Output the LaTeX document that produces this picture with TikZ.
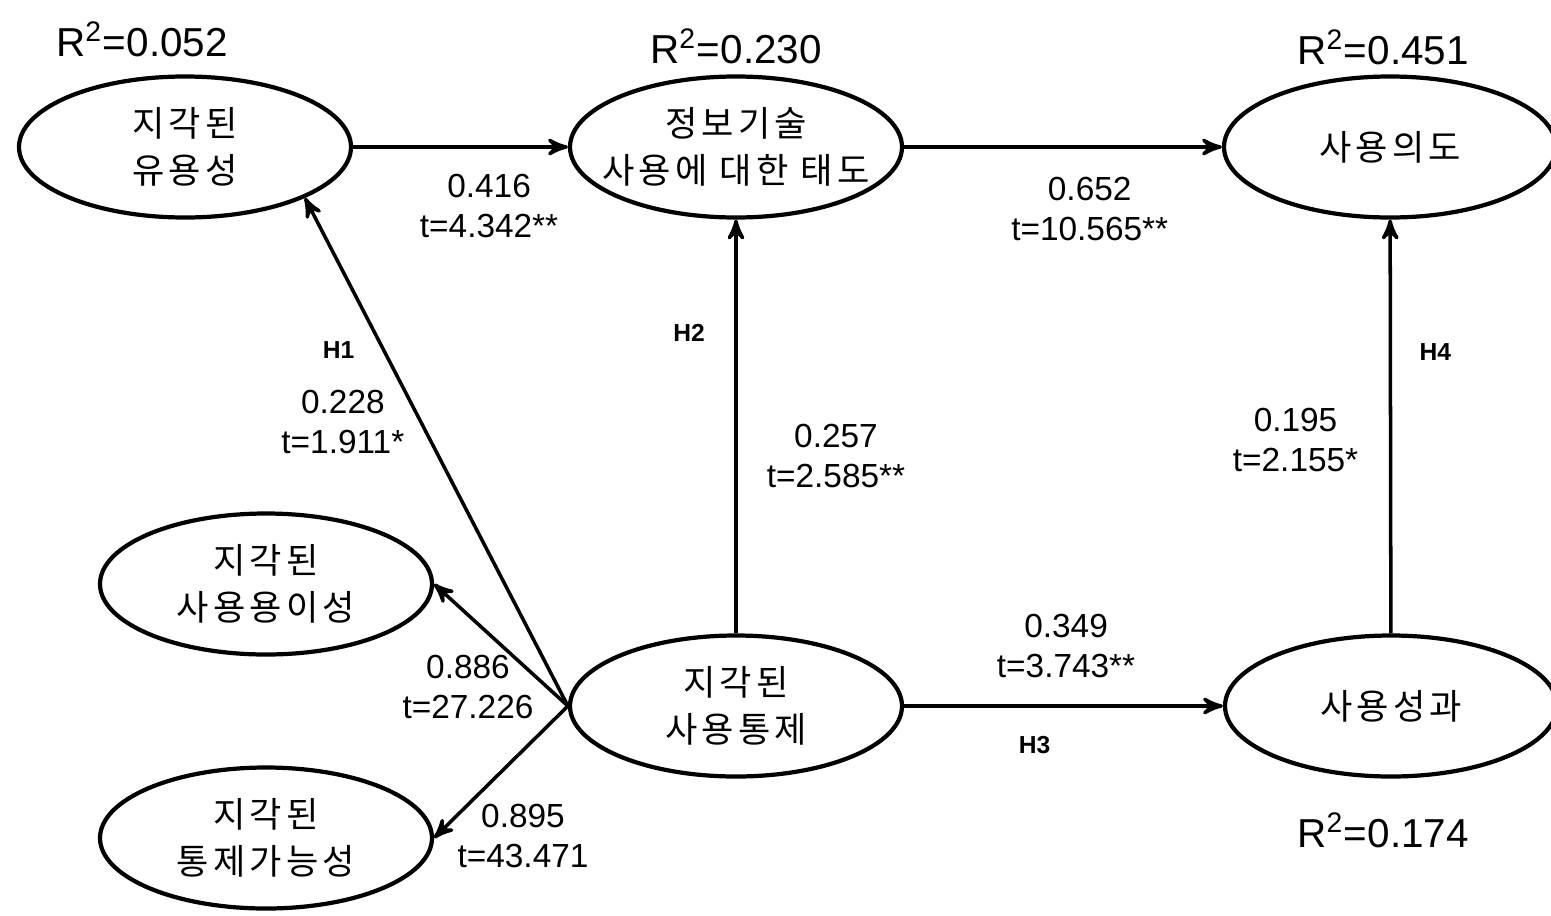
\documentclass[tikz,border=0pt]{standalone}
\usepackage{fontspec}
\setmainfont{Liberation Sans}
\newfontfamily\kr[LetterSpace=12]{Noto Sans CJK KR}
\usetikzlibrary{arrows,shapes.geometric}

\begin{document}
\begin{tikzpicture}[>=stealth',node distance=5.5cm,line width=1pt,
    main node/.style={ellipse,draw,line width=1.2pt,minimum width=3.32cm,minimum height=1.41cm,
                      inner sep=0pt,inner xsep=-0.2cm,align=center,font=\kr\fontsize{10}{13.2}\selectfont},
    rsq node/.style={inner sep=0pt,font=\fontsize{11.5}{13}\selectfont},
    est node/.style={align=center,inner sep=0pt,font=\fontsize{9.5}{11.3}\selectfont},
    hyp node/.style={inner sep=0pt,font=\fontsize{7}{8}\selectfont\bfseries}]
  \useasboundingbox (0,0) rectangle (15.51,-9.15);
  \node[main node] (1) at (1.85,-1.47) {지각된\\유용성};
  \node[main node] (2) [right of=1, node distance=5.51cm] {정보기술\\사용에 대한 태도};
  \node[main node] (3) [right of=2, node distance=6.54cm] {사용의도};
  \node[main node] (5) [below of=2, node distance=5.59cm] {지각된\\사용통제};
  \node[main node] (4) [right of=5, node distance=6.55cm] {사용성과};
  \node[main node] (6) at (2.66,-5.84) {지각된\\사용용이성};
  \node[main node] (7) [below of=6, node distance=2.54cm] {지각된\\통제가능성};
  % R-squared
  \node[rsq node] (r1) at (1.42,-0.39) {R\textsuperscript{2}=0.052};
  \node[rsq node] (r2) [above of=2, node distance=1.01cm] {R\textsuperscript{2}=0.230};
  \node[rsq node] (r3) at (13.83,-0.47) {R\textsuperscript{2}=0.451};
  \node[rsq node] (r4) at (13.83,-8.30) {R\textsuperscript{2}=0.174};
  \path[->]
    (1) edge node[est node,pos=0.633,yshift=-0.59cm] {0.416\\t=4.342**} (2)
    (2) edge node[est node,pos=0.584,yshift=-0.62cm] {0.652\\t=10.565**} (3)
    (5) edge node[est node,pos=0.428,xshift=1.00cm] {0.257\\t=2.585**}
            node[hyp node,pos=0.725,xshift=-0.47cm] {H2} (2)
    (4) edge node[est node,pos=0.468,xshift=-0.95cm] {0.195\\t=2.155*}
            node[hyp node,pos=0.68,xshift=0.45cm] {H4} (3)
    (5) edge node[est node,pos=0.508,yshift=0.60cm] {0.349\\t=3.743**}
            node[hyp node,pos=0.409,yshift=-0.39cm] {H3} (4)
    (5.west) edge node[est node,pos=0.559,xshift=-0.78cm] {0.228\\t=1.911*}
                  node[hyp node,pos=0.701,xshift=-0.45cm] {H1} (1.-23)
    (5.west) edge node[est node,pos=0.5,xshift=-0.33cm,yshift=-0.42cm] {0.886\\t=27.226} (6.east)
    (5.west) edge node[est node,pos=0.5,xshift=0.22cm,yshift=-0.64cm] {0.895\\t=43.471} (7.east);
\end{tikzpicture}
\end{document}
